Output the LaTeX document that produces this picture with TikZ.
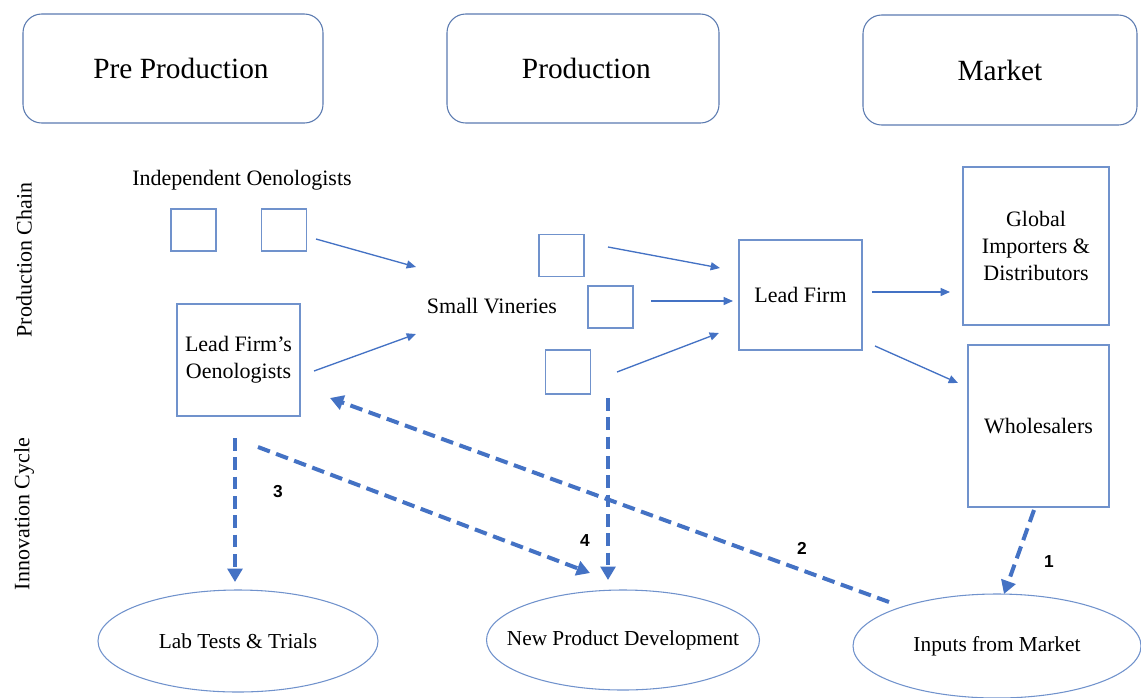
\documentclass[tikz,border=0pt]{standalone}
\usepackage{fontspec}
\setmainfont{Liberation Serif}
\newfontfamily\numfont{Liberation Sans}
\usetikzlibrary{shapes.geometric,arrows.meta}
\definecolor{lineblue}{HTML}{4472C4}
\definecolor{boxblue}{HTML}{7092CC}
\definecolor{hdrblue}{HTML}{5A7AB0}
\begin{document}
\begin{tikzpicture}[x=0.75pt,y=-0.75pt,
 hdr/.style={draw=hdrblue, line width=0.8pt, rounded corners=14pt, font=\fontsize{22}{26}\selectfont, inner sep=0pt},
 box/.style={draw=boxblue, line width=0.9pt, inner sep=0pt, align=center, font=\fontsize{16.5}{20}\selectfont},
 sq/.style={draw=boxblue, line width=0.9pt, inner sep=0pt, minimum width=33.75pt, minimum height=31.5pt},
 oval/.style={ellipse, draw=boxblue, line width=0.8pt, inner sep=0pt, font=\fontsize{16}{20}\selectfont},
 flow/.style={draw=lineblue, line width=1pt, -{Triangle[length=7pt,width=6pt]}},
 cyc/.style={draw=lineblue, line width=3pt, dash pattern=on 9.5pt off 5pt, -{Triangle[length=10pt,width=11pt]}},
 lbl/.style={font=\fontsize{16.5}{20}\selectfont, inner sep=0pt},
 num/.style={font=\numfont\bfseries\fontsize{13}{15}\selectfont, inner sep=0pt}]
\useasboundingbox (0,0) rectangle (1141,697);

% headers
\node[hdr, minimum width=225pt, minimum height=81.75pt] (pre) at (173,68.5) {\hspace{12pt}Pre Production};
\node[hdr, minimum width=204pt, minimum height=81.75pt] (prod) at (583,68.5) {\hspace{5pt}Production};
\node[hdr, minimum width=205.5pt, minimum height=82.5pt] (mkt) at (1000,70) {Market};

% side labels
\node[lbl, rotate=90] (pc) at (24,260) {Production Chain};
\node[lbl, rotate=90] (ic) at (24,514) {Innovation Cycle};

% production chain
\node[lbl] (indep) at (242,180) {Independent Oenologists};
\node[sq] (io1) at (193.5,230) {};
\node[sq] (io2) at (284,230) {};
\node[box, minimum width=92.25pt, minimum height=84pt] (lfo) at (238.5,360) {Lead Firm's\\Oenologists};
\node[lbl] (sv) at (492,306) {Small Vineries};
\node[sq] (sv1) at (561.5,255.5) {};
\node[sq] (sv2) at (610.5,307) {};
\node[sq, minimum height=33pt] (sv3) at (568,372) {};
\node[box, minimum width=92.25pt, minimum height=82.5pt] (lf) at (800.5,295) {Lead Firm};
\node[box, minimum width=109.5pt, minimum height=118.5pt] (gid) at (1036,246) {Global\\Importers \&\\Distributors};
\node[box, minimum width=105.75pt, minimum height=121.5pt] (wh) at (1038.5,426) {Wholesalers};

% innovation cycle
\node[oval, minimum width=210pt, minimum height=76.5pt] (lab) at (238,641) {\makebox[0pt]{Lab Tests \& Trials}};
\node[oval, minimum width=204.75pt, minimum height=75pt] (npd) at (623,640) {\makebox[0pt]{New Product Development}};
\node[oval, minimum width=216pt, minimum height=78pt] (inp) at (997,646) {\makebox[0pt]{Inputs from Market}};

% connector end points
\coordinate (a1s) at (316,239); \coordinate (a1e) at (416,267);
\coordinate (a2s) at (314,371); \coordinate (a2e) at (416,334);
\coordinate (a3s) at (608,247); \coordinate (a3e) at (720,268);
\coordinate (a4s) at (651,301); \coordinate (a4e) at (733,301);
\coordinate (a5s) at (617,372); \coordinate (a5e) at (719,333);
\coordinate (a6s) at (872,292); \coordinate (a6e) at (950,292);
\coordinate (a7s) at (875,346); \coordinate (a7e) at (958,383);

\draw[flow] (a1s) -- (a1e);
\draw[flow] (a2s) -- (a2e);
\draw[flow] (a3s) -- (a3e);
\draw[flow] (a4s) -- (a4e);
\draw[flow] (a5s) -- (a5e);
\draw[flow] (a6s) -- (a6e);
\draw[flow] (a7s) -- (a7e);

\coordinate (c3s) at (235,438); \coordinate (c3e) at (235,582);
\coordinate (c4s) at (258,447); \coordinate (c4e) at (590,573);
\coordinate (c5s) at (608,398); \coordinate (c5e) at (608,580);
\coordinate (c2s) at (889,602); \coordinate (c2e) at (330,398);
\coordinate (c1s) at (1034,510); \coordinate (c1e) at (1004,594);

\draw[cyc] (c3s) -- (c3e);
\draw[cyc] (c4s) -- (c4e);
\draw[cyc] (c5s) -- (c5e);
\draw[cyc] (c2s) -- (c2e);
\draw[cyc] (c1s) -- (c1e);

\node[num] (n3) at (278,492) {3};
\node[num] (n4) at (585,541) {4};
\node[num] (n2) at (802,548) {2};
\node[num] (n1) at (1049,562) {1};
\end{tikzpicture}
\end{document}
